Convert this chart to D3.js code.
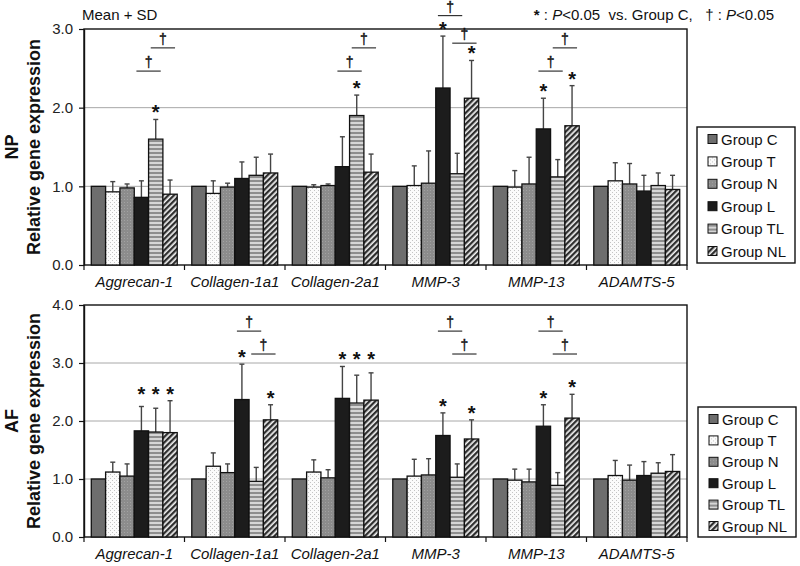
<!DOCTYPE html>
<html><head><meta charset="utf-8">
<script src="https://cdn.jsdelivr.net/npm/d3@7"></script>
<style>
body{margin:0;background:#fff;}
svg{display:block;font-family:"Liberation Sans",Arial,sans-serif;}
</style></head>
<body><svg id="chart" width="800" height="566"></svg>
<script>
const categories = ["Aggrecan-1","Collagen-1a1","Collagen-2a1","MMP-3","MMP-13","ADAMTS-5"];
const groups = ["Group C","Group T","Group N","Group L","Group TL","Group NL"];

// NP panel: mean and SD per category (rows) x group (cols)
const npMean = [
  [1.00,0.93,0.98,0.86,1.60,0.90],
  [1.00,0.91,0.99,1.10,1.14,1.17],
  [1.00,0.99,1.01,1.25,1.90,1.18],
  [1.00,1.01,1.04,2.25,1.16,2.12],
  [1.00,0.99,1.03,1.73,1.12,1.77],
  [1.00,1.07,1.03,0.94,1.01,0.96]];
const npSD = [
  [0,0.13,0.05,0.21,0.25,0.18],
  [0,0.16,0.05,0.21,0.23,0.24],
  [0,0.03,0.02,0.38,0.26,0.23],
  [0,0.25,0.41,0.66,0.26,0.48],
  [0,0.21,0.34,0.39,0.22,0.51],
  [0,0.23,0.26,0.20,0.16,0.18]];
// AF panel
const afMean = [
  [1.00,1.12,1.05,1.83,1.81,1.80],
  [1.00,1.22,1.11,2.37,0.96,2.02],
  [1.00,1.12,1.02,2.39,2.31,2.36],
  [1.00,1.05,1.07,1.75,1.03,1.69],
  [1.00,0.98,0.95,1.91,0.89,2.05],
  [1.00,1.06,0.98,1.06,1.10,1.13]];
const afSD = [
  [0,0.17,0.21,0.42,0.41,0.55],
  [0,0.23,0.15,0.61,0.24,0.26],
  [0,0.21,0.14,0.55,0.48,0.47],
  [0,0.29,0.28,0.39,0.23,0.33],
  [0,0.19,0.22,0.37,0.22,0.41],
  [0,0.26,0.26,0.24,0.18,0.29]];

// significance marks: [category, group]
const npStars = [[0,4],[2,4],[3,3],[3,5],[4,3],[4,5]];
const afStars = [[0,3],[0,4],[0,5],[1,3],[1,5],[2,3],[2,4],[2,5],[3,3],[3,5],[4,3],[4,5]];
// dagger brackets: [category, fromGroup, toGroup, level]
const npDaggers = [[0,3,4,2.465],[0,4,5,2.76],[2,3,4,2.465],[2,4,5,2.76],[3,3,4,3.17],[3,4,5,2.82],[4,3,4,2.465],[4,4,5,2.76]];
const afDaggers = [[1,3,4,3.55],[1,4,5,3.155],[3,3,4,3.55],[3,4,5,3.155],[4,3,4,3.55],[4,4,5,3.155]];

const npTicks = [0,1,2,3];
const afTicks = [0,1,2,3,4];

const svg = d3.select("#chart");
const defs = svg.append("defs");

// patterns
function pat(id,w,h,draw){
  const p = defs.append("pattern").attr("id",id).attr("patternUnits","userSpaceOnUse").attr("width",w).attr("height",h);
  draw(p);
}
pat("pT",4,4,p=>{
  p.append("rect").attr("width",4).attr("height",4).attr("fill","#fbfbfb");
  p.append("rect").attr("x",0).attr("y",0).attr("width",1).attr("height",1).attr("fill","#c4c4c4");
  p.append("rect").attr("x",2).attr("y",2).attr("width",1).attr("height",1).attr("fill","#c4c4c4");
});
pat("pN",3,3,p=>{
  p.append("rect").attr("width",3).attr("height",3).attr("fill","#8c8c8c");
  p.append("rect").attr("x",1).attr("y",1).attr("width",1).attr("height",1).attr("fill","#a2a2a2");
});
pat("pTL",4,4,p=>{
  p.append("rect").attr("width",4).attr("height",4).attr("fill","#d6d6d6");
  p.append("rect").attr("y",0).attr("width",4).attr("height",2).attr("fill","#8e8e8e");
});
pat("pNL",4,4,p=>{
  p.attr("patternTransform","rotate(45)");
  p.append("rect").attr("width",4).attr("height",4).attr("fill","#f2f2f2");
  p.append("rect").attr("x",0).attr("width",2.3).attr("height",4).attr("fill","#2e2e2e");
});
const fills = ["#6e6e6e","url(#pT)","url(#pN)","#1c1c1c","url(#pTL)","url(#pNL)"];

const left = 84, right = 687;
const x0 = d3.scaleBand().domain(categories).range([left,right]).paddingInner(0.145).paddingOuter(0.0725);
const x1 = d3.scaleBand().domain(groups).range([0,x0.bandwidth()]);

function panel(cfg){
  const y = d3.scaleLinear().domain([0,cfg.max]).range([cfg.bottom,cfg.top]);
  const g = svg.append("g");
  // gridlines
  g.selectAll(".grid").data(cfg.ticks.filter(t=>t>0 && t<cfg.max)).join("line")
    .attr("x1",left).attr("x2",right).attr("y1",d=>y(d)).attr("y2",d=>y(d))
    .attr("stroke","#a8a8a8").attr("stroke-width",1);
  // frame
  g.append("rect").attr("x",left).attr("y",cfg.top).attr("width",right-left).attr("height",cfg.bottom-cfg.top)
    .attr("fill","none").attr("stroke","#111").attr("stroke-width",1.4);
  // left axis
  const ax = g.append("g").attr("transform",`translate(${left},0)`)
    .call(d3.axisLeft(y).tickValues(cfg.ticks).tickFormat(d3.format(".1f")).tickSize(5).tickSizeOuter(0).tickPadding(6));
  ax.select(".domain").attr("stroke","#111").attr("stroke-width",1.4);
  ax.selectAll(".tick line").attr("stroke","#111").attr("stroke-width",1.2);
  ax.selectAll(".tick text").attr("font-size",15).attr("fill","#222").attr("font-family","Liberation Sans, Arial, sans-serif");
  // bottom ticks at group boundaries
  const step = x0.step();
  const bounds = d3.range(categories.length+1).map(i=>left+i*step);
  g.selectAll(".xt").data(bounds).join("line")
    .attr("x1",d=>d).attr("x2",d=>d).attr("y1",cfg.bottom).attr("y2",cfg.bottom+5)
    .attr("stroke","#111").attr("stroke-width",1.2);
  // category labels
  g.selectAll(".cl").data(categories).join("text")
    .attr("x",d=>x0(d)+x0.bandwidth()/2).attr("y",cfg.bottom+22)
    .attr("text-anchor","middle").attr("font-size",15).attr("font-style","italic").attr("fill","#111")
    .text(d=>d);
  // bars
  const flat = [];
  cfg.mean.forEach((row,ci)=>row.forEach((v,gi)=>flat.push({ci,gi,v,sd:cfg.sd[ci][gi]})));
  const bx = d=>x0(categories[d.ci])+x1(groups[d.gi]);
  const bw = x1.bandwidth();
  // error bars (behind bars)
  const eb = flat.filter(d=>d.sd>0);
  g.selectAll(".eb").data(eb).join("line")
    .attr("x1",d=>bx(d)+bw/2).attr("x2",d=>bx(d)+bw/2)
    .attr("y1",d=>y(d.v)).attr("y2",d=>y(d.v+d.sd))
    .attr("stroke","#444").attr("stroke-width",1.4);
  g.selectAll(".ec").data(eb).join("line")
    .attr("x1",d=>bx(d)+bw/2-2.5).attr("x2",d=>bx(d)+bw/2+2.5)
    .attr("y1",d=>y(d.v+d.sd)).attr("y2",d=>y(d.v+d.sd))
    .attr("stroke","#444").attr("stroke-width",1.4);
  g.selectAll(".bar").data(flat).join("rect")
    .attr("x",d=>bx(d)).attr("width",bw)
    .attr("y",d=>y(d.v)).attr("height",d=>y(0)-y(d.v))
    .attr("fill",d=>fills[d.gi]).attr("stroke","#111").attr("stroke-width",1.3);
  // stars: aligned over runs of consecutive starred bars
  const starSet = new Set(cfg.stars.map(s=>s[0]+"_"+s[1]));
  cfg.stars.forEach(([ci,gi])=>{
    let a=gi,b=gi;
    while(starSet.has(ci+"_"+(a-1))) a--;
    while(starSet.has(ci+"_"+(b+1))) b++;
    let top = 0;
    for(let k=a;k<=b;k++) top=Math.max(top,cfg.mean[ci][k]+cfg.sd[ci][k]);
    const cx = x0(categories[ci])+x1(groups[gi])+bw/2;
    g.append("text").attr("x",cx).attr("y",y(top))
      .attr("text-anchor","middle").attr("font-size",20).attr("font-weight","bold").attr("fill","#111")
      .text("*");
  });
  // dagger brackets
  cfg.daggers.forEach(([ci,ga,gb,lv])=>{
    const xa = x0(categories[ci])+x1(groups[ga])+bw/2-5;
    const xb = x0(categories[ci])+x1(groups[gb])+bw/2+5;
    g.append("line").attr("x1",xa).attr("x2",xb).attr("y1",y(lv)).attr("y2",y(lv))
      .attr("stroke","#222").attr("stroke-width",1.1);
    g.append("text").attr("x",(xa+xb)/2).attr("y",y(lv)-4)
      .attr("text-anchor","middle").attr("font-size",14).attr("fill","#111")
      .attr("stroke","#111").attr("stroke-width",0.35).text("\u2020");
  });
  // y titles
  const cy = (cfg.top+cfg.bottom)/2;
  g.append("text").attr("transform",`translate(18,${cy}) rotate(-90)`).attr("text-anchor","middle")
    .attr("font-size",18).attr("font-weight","bold").attr("fill","#111").text(cfg.name);
  g.append("text").attr("transform",`translate(40,${cy}) rotate(-90)`).attr("text-anchor","middle")
    .attr("font-size",18).attr("font-weight","bold").attr("fill","#111").text("Relative gene expression");
  // legend
  const lg = svg.append("g");
  lg.append("rect").attr("x",cfg.lx).attr("y",cfg.ly).attr("width",98).attr("height",cfg.lh)
    .attr("fill","#fff").attr("stroke","#111").attr("stroke-width",1.4);
  const items = lg.selectAll(".li").data(groups).join("g")
    .attr("transform",(d,i)=>`translate(${cfg.lx+11},${cfg.ly+12+i*cfg.ls})`);
  items.append("rect").attr("x",0).attr("y",-4.5).attr("width",9).attr("height",9)
    .attr("fill",(d,i)=>fills[i]).attr("stroke","#111").attr("stroke-width",1);
  items.append("text").attr("x",13).attr("y",5.5).attr("font-size",15).attr("fill","#111").text(d=>d);
}

panel({name:"NP",max:3,top:29,bottom:265,ticks:npTicks,mean:npMean,sd:npSD,stars:npStars,daggers:npDaggers,lx:697,ly:127,lh:136,ls:22.4});
panel({name:"AF",max:4,top:305,bottom:537,ticks:afTicks,mean:afMean,sd:afSD,stars:afStars,daggers:afDaggers,lx:698,ly:407,lh:130,ls:21.4});

// header texts
svg.append("text").attr("x",82).attr("y",20).attr("font-size",15).attr("fill","#111").text("Mean + SD");
const note = svg.append("text").attr("x",774).attr("y",20).attr("text-anchor","end").attr("font-size",15).attr("fill","#111").attr("xml:space","preserve");
note.append("tspan").attr("font-weight","bold").text("*");
note.append("tspan").text(" : ");
note.append("tspan").attr("font-style","italic").text("P");
note.append("tspan").text("<0.05  vs. Group C,   \u2020 : ");
note.append("tspan").attr("font-style","italic").text("P");
note.append("tspan").text("<0.05");
</script></body></html>
